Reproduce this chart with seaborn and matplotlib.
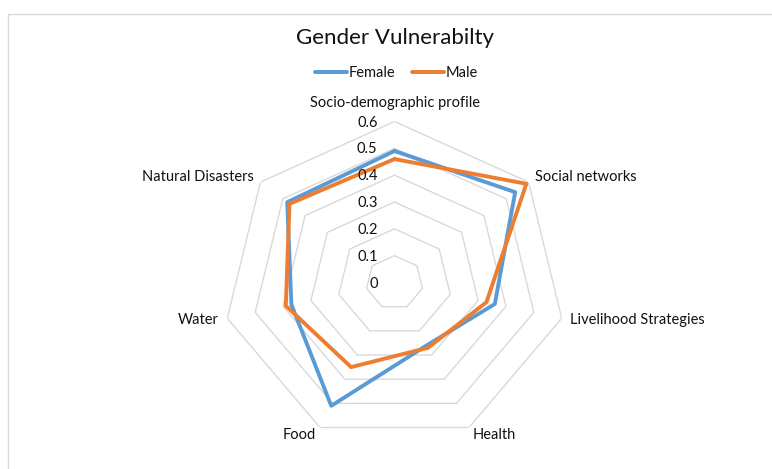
import numpy as np
import pandas as pd
import matplotlib
matplotlib.use("Agg")
import matplotlib.pyplot as plt
import matplotlib.patches as mpatches
import matplotlib.transforms as mtransforms
import seaborn as sns

# ---- data ----
categories = ["Socio-demographic profile", "Social networks", "Livelihood Strategies",
              "Health", "Food", "Water", "Natural Disasters"]
female = [0.49, 0.54, 0.36, 0.26, 0.51, 0.37, 0.48]
male = [0.46, 0.59, 0.33, 0.27, 0.35, 0.39, 0.47]
series_names = ["Female", "Male"]
radial_ticks = [0, 0.1, 0.2, 0.3, 0.4, 0.5, 0.6]
radial_labels = ["0", "0.1", "0.2", "0.3", "0.4", "0.5", "0.6"]
title = "Gender Vulnerabilty"

sns.set_style("white")
plt.rcParams["font.family"] = ["Lato", "DejaVu Sans"]

W, H = 772, 469
fig = plt.figure(figsize=(W / 100, H / 100), dpi=100)
fig.patch.set_facecolor("white")

# axes box (polar, stretched horizontally like the reference)
cx, cy = 394.5, 282.5
ry = 161.0
rx = 171.5
ax = fig.add_axes([(cx - rx) / W, (H - cy - ry) / H, 2 * rx / W, 2 * ry / H], projection="polar")
ax.set_aspect("auto")
ax.set_theta_zero_location("N")
ax.set_theta_direction(-1)

n = len(categories)
angles = np.linspace(0, 2 * np.pi, n, endpoint=False)
closed_angles = np.append(angles, angles[0] + 2 * np.pi)

# heptagon grid
for r in radial_ticks[1:]:
    ax.plot(closed_angles, [r] * (n + 1), color="#D9D9D9", lw=1.0, zorder=1)

rows = []
for name, vals in zip(series_names, [female, male]):
    closed_vals = list(vals) + [vals[0]]
    for i, (t, v) in enumerate(zip(closed_angles, closed_vals)):
        rows.append({"theta": t, "value": v, "series": name, "order": i})
df = pd.DataFrame(rows)

palette = {"Female": "#5B9BD5", "Male": "#ED7D31"}
sns.lineplot(data=df, x="theta", y="value", hue="series", palette=palette,
             sort=False, estimator=None, units="series", lw=2.8, ax=ax, legend=False, zorder=3)

ax.set_ylim(0, 0.6)
ax.grid(False)
ax.spines["polar"].set_visible(False)
ax.set_xticks([])
ax.set_yticks([])
ax.set_xlabel("")
ax.set_ylabel("")
ax.patch.set_alpha(0)

fs = 10.5
txt_color = "#111111"
# radial tick labels
off = mtransforms.offset_copy(ax.transData, fig=fig, x=-17, y=-1, units="dots")
for v, lab in zip(radial_ticks, radial_labels):
    ax.text(0, v, lab, transform=off, ha="right", va="center", fontsize=fs, color=txt_color)

# category labels
align = [("center", 0.67), ("left", 0.63), ("left", 0.63), ("left", 0.63),
         ("right", 0.63), ("right", 0.63), ("right", 0.63)]
for a, cat, (ha, r) in zip(angles, categories, align):
    ax.text(a, r, cat, ha=ha, va="center", fontsize=fs, color=txt_color)

# title
fig.text(395 / W, 1 - 38.5 / H, title, ha="center", va="center", fontsize=16, color=txt_color)

# legend
handles = [plt.Line2D([], [], color=palette[s], lw=2.8) for s in series_names]
fig.legend(handles, series_names, loc="center", bbox_to_anchor=(396.5 / W, 1 - 73 / H),
           ncol=2, frameon=False, fontsize=fs, handlelength=2.2, handletextpad=0.15,
           columnspacing=1.1, labelcolor=txt_color)

# chart border
fig.add_artist(mpatches.Rectangle((8 / W, -0.1), 1.2, (H - 14) / H + 0.1,
                                  transform=fig.transFigure, fill=False,
                                  edgecolor="#D9D9D9", lw=1.0))

fig.savefig("out.png", dpi=100)
